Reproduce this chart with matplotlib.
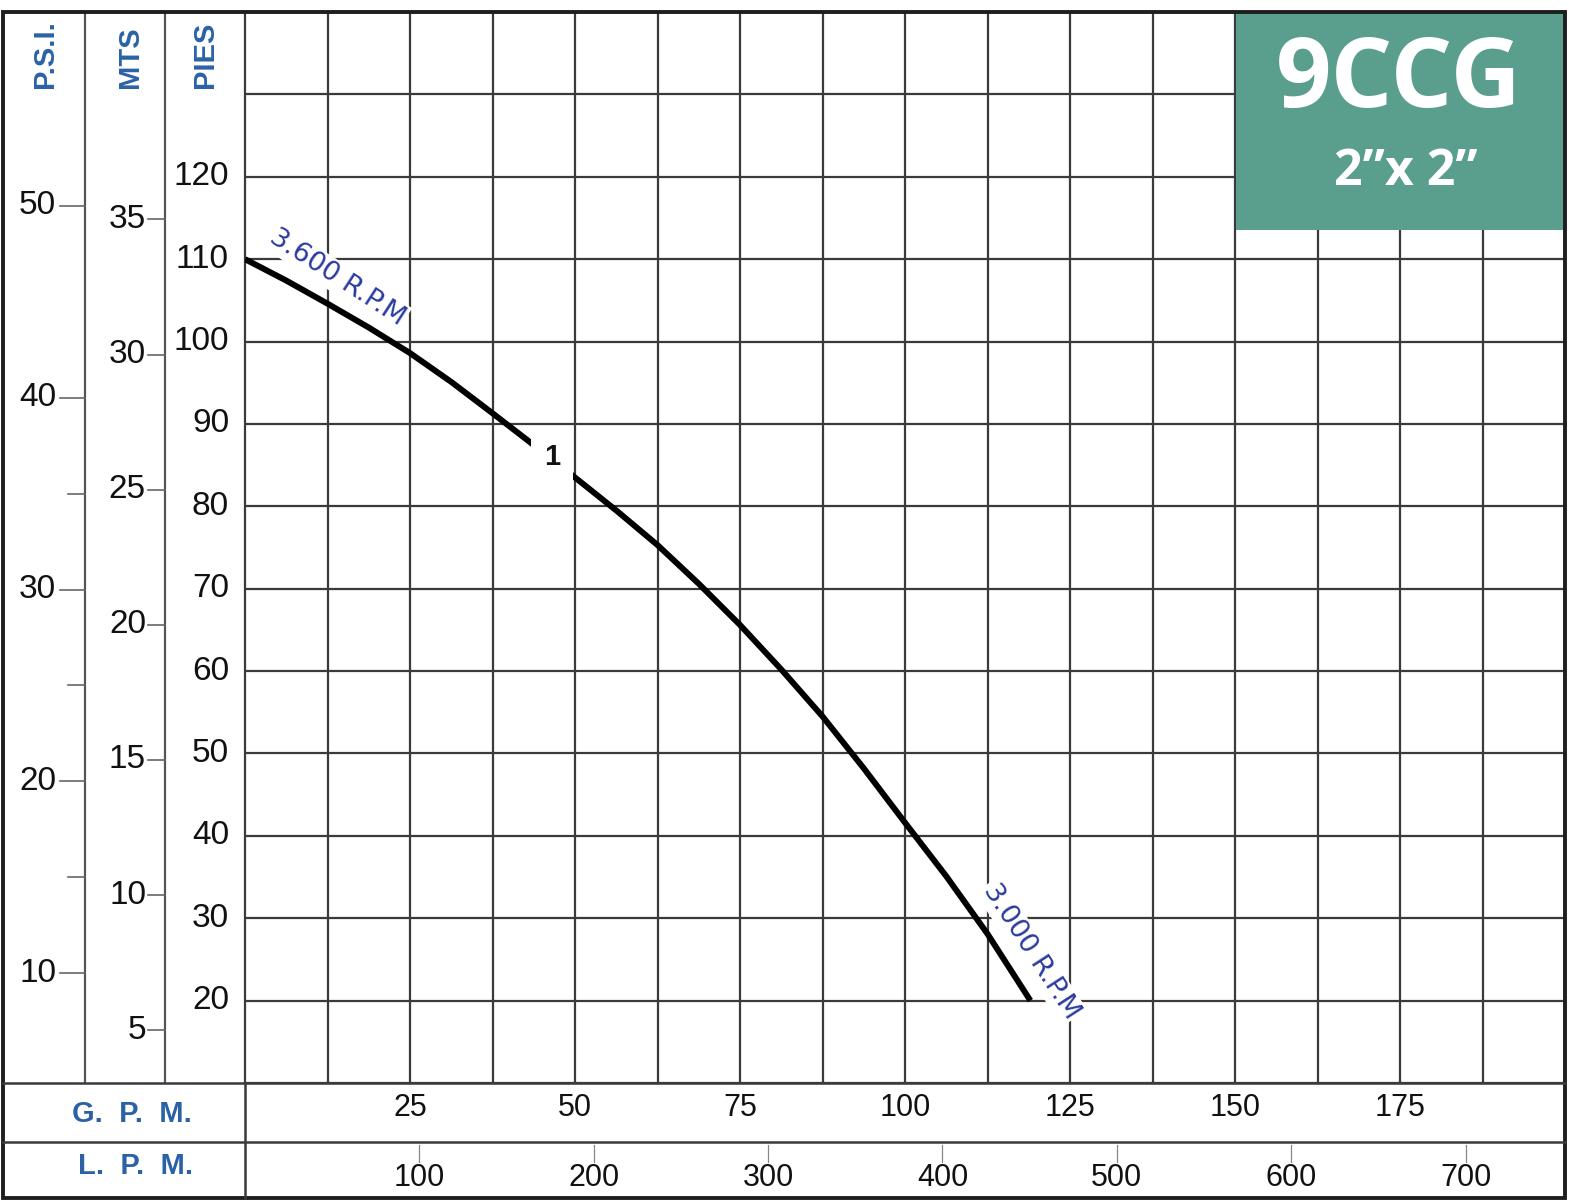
import matplotlib
matplotlib.use('Agg')
import matplotlib.pyplot as plt
from matplotlib.patches import Rectangle
from matplotlib.lines import Line2D
import numpy as np

# ---------------- data ----------------
gpm = [0, 6.25, 12.5, 18.75, 25, 31.25, 37.5, 43, 50, 56.25, 62.5, 68.75, 75, 81.25,
       87.5, 93.75, 100, 106.25, 112.5, 119]
ft = [110, 107.4, 104.6, 101.7, 98.6, 95.1, 91.3, 87.9, 83.5, 79.5, 75.3, 70.6, 65.6, 60.2,
      54.5, 48.2, 41.6, 35.1, 28.1, 20.0]

gpm_ticks = [25, 50, 75, 100, 125, 150, 175]
lpm_ticks = [100, 200, 300, 400, 500, 600, 700]
psi_ticks = [10, 20, 30, 40, 50]
psi_minor = [15, 25, 35]
mts_ticks = [5, 10, 15, 20, 25, 30, 35]
pies_ticks = [20, 30, 40, 50, 60, 70, 80, 90, 100, 110, 120]

FT_PER_PSI = 2.33
FT_PER_M = 1 / 0.3048
LPM_PER_GPM = 3.785

title = "9CCG"
subtitle = "2\u201dx 2\u201d"
rpm_hi = "3.600 R.P.M"
rpm_lo = "3.000 R.P.M"
curve_label = "1"

# ---------------- style ----------------
W, H = 1569, 1202
GRID = '#3a3a3a'
DIV = '#555555'
HEAD_BLUE = '#2b62a6'
RPM_BLUE = '#2a3a9e'
TEAL = '#5a9e8e'
NUM_FONT = ['Liberation Sans', 'DejaVu Sans']
HEAD_FONT = ['Liberation Sans', 'DejaVu Sans']
TITLE_FONT = ['Open Sans', 'DejaVu Sans']
NUM_COLOR = '#111111'


def fx(px):
    return px / W


def fy(py):
    return 1 - py / H


fig = plt.figure(figsize=(W / 100, H / 100), dpi=100)
fig.patch.set_facecolor('white')

# ---------------- main chart ----------------
ax = fig.add_axes([fx(245), fy(1083), (1565 - 245) / W, (1083 - 12) / H])
ax.set_xlim(0, 200)
ax.set_ylim(10, 140)
ax.set_xticks([])
ax.set_yticks([])
for s in ax.spines.values():
    s.set_color(GRID)
    s.set_linewidth(1.6)
for x in np.arange(12.5, 200, 12.5):
    ax.axvline(x, color=GRID, lw=1.6, zorder=1)
for y in np.arange(20, 140, 10):
    ax.axhline(y, color=GRID, lw=1.6, zorder=1)

# title box
ax.add_patch(Rectangle(((1236 - 245) / 1320, (1083 - 230) / 1071),
                       1 - (1236 - 245) / 1320, 1 - (1083 - 230) / 1071,
                       transform=ax.transAxes, facecolor=TEAL, edgecolor='none', zorder=6))
ax.text((1399 - 245) / 1320, (1083 - 107) / 1071, title, transform=ax.transAxes,
        ha='center', va='baseline', color='white', fontsize=70, fontweight='bold',
        family=TITLE_FONT, zorder=7)
ax.text((1406 - 245) / 1320, (1083 - 185) / 1071, subtitle, transform=ax.transAxes,
        ha='center', va='baseline', color='white', fontsize=36, fontweight='bold',
        family=TITLE_FONT, zorder=7)

# curve
ax.plot(gpm, ft, color='black', lw=4.3, solid_capstyle='butt', solid_joinstyle='round', zorder=4)

# labels on the curve
ax.text(13.9, 107.8, rpm_hi, rotation=-33, rotation_mode='anchor', ha='center', va='center',
        color=RPM_BLUE, fontsize=19.5, family=['DejaVu Sans'],
        bbox=dict(facecolor='white', edgecolor='none', pad=1.5), zorder=5)
ax.text(119.1, 26.0, rpm_lo, rotation=-57, rotation_mode='anchor', ha='center', va='center',
        color=RPM_BLUE, fontsize=19.5, family=['DejaVu Sans'],
        bbox=dict(facecolor='white', edgecolor='none', pad=1.5), zorder=5)
ax.text(46.5, 86.0, curve_label, ha='center', va='center', color='#111111',
        fontsize=21, fontweight='bold', family=NUM_FONT,
        bbox=dict(facecolor='white', edgecolor='none', boxstyle='square,pad=0.45'), zorder=5)

# ---------------- left scales ----------------
axl = fig.add_axes([0, fy(1083), fx(245), (1083 - 12) / H])
axl.set_xlim(0, 245)
axl.set_ylim(10, 140)
axl.axis('off')
axl.axvline(85, color=DIV, lw=1.6)
axl.axvline(165, color=DIV, lw=1.6)

for v in psi_ticks:
    y = v * FT_PER_PSI
    axl.plot([60, 85], [y, y], color='#666666', lw=1.2)
    axl.text(56, y, str(v), ha='right', va='center', fontsize=24, family=NUM_FONT, color=NUM_COLOR)
for v in psi_minor:
    y = v * FT_PER_PSI
    axl.plot([68, 85], [y, y], color='#666666', lw=1.2)
for v in mts_ticks:
    y = v * FT_PER_M
    axl.plot([148, 165], [y, y], color='#666666', lw=1.2)
    axl.text(146, y, str(v), ha='right', va='center', fontsize=24, family=NUM_FONT, color=NUM_COLOR)
for v in pies_ticks:
    axl.text(229, v, str(v), ha='right', va='center', fontsize=24, family=NUM_FONT, color=NUM_COLOR)

for lab, xp in [("P.S.I.", 45), ("MTS", 130), ("PIES", 205)]:
    axl.text(xp / 245, (1083 - 88) / 1071, lab, transform=axl.transAxes, rotation=90,
             ha='center', va='bottom', color=HEAD_BLUE, fontsize=21, fontweight='bold',
             family=HEAD_FONT)

# ---------------- bottom scales ----------------
axb = fig.add_axes([fx(245), fy(1198), (1565 - 245) / W, (1198 - 1083) / H])
axb.set_xlim(0, 200)
axb.set_ylim(0, 1)
axb.axis('off')
for v in gpm_ticks:
    axb.text(v, 0.78, str(v), ha='center', va='center', fontsize=22, family=NUM_FONT, color=NUM_COLOR)
for v in lpm_ticks:
    xg = v / LPM_PER_GPM
    axb.plot([xg, xg], [0.465, 0.315], color='#888888', lw=0.9)
    axb.text(xg, 0.17, str(v), ha='center', va='center', fontsize=22, family=NUM_FONT, color=NUM_COLOR)

fig.text(fx(132), fy(1114), "G.  P.  M.", ha='center', va='center', color=HEAD_BLUE,
         fontsize=21, fontweight='bold', family=HEAD_FONT)
fig.text(fx(136), fy(1166), "L.  P.  M.", ha='center', va='center', color=HEAD_BLUE,
         fontsize=21, fontweight='bold', family=HEAD_FONT)

# frame lines
fig.add_artist(Line2D([fx(3), fx(1565)], [fy(1083), fy(1083)], transform=fig.transFigure,
                      color=GRID, lw=1.8))
fig.add_artist(Line2D([fx(3), fx(1565)], [fy(1142), fy(1142)], transform=fig.transFigure,
                      color=GRID, lw=1.8))
fig.add_artist(Line2D([fx(245), fx(245)], [fy(1083), fy(1198)], transform=fig.transFigure,
                      color=GRID, lw=1.8))
fig.add_artist(Rectangle((fx(3), fy(1198)), (1565 - 3) / W, (1198 - 12) / H,
                         transform=fig.transFigure, fill=False, lw=2.8, ec='#1e1e1e'))

fig.savefig('out.png', dpi=100, facecolor='white')
